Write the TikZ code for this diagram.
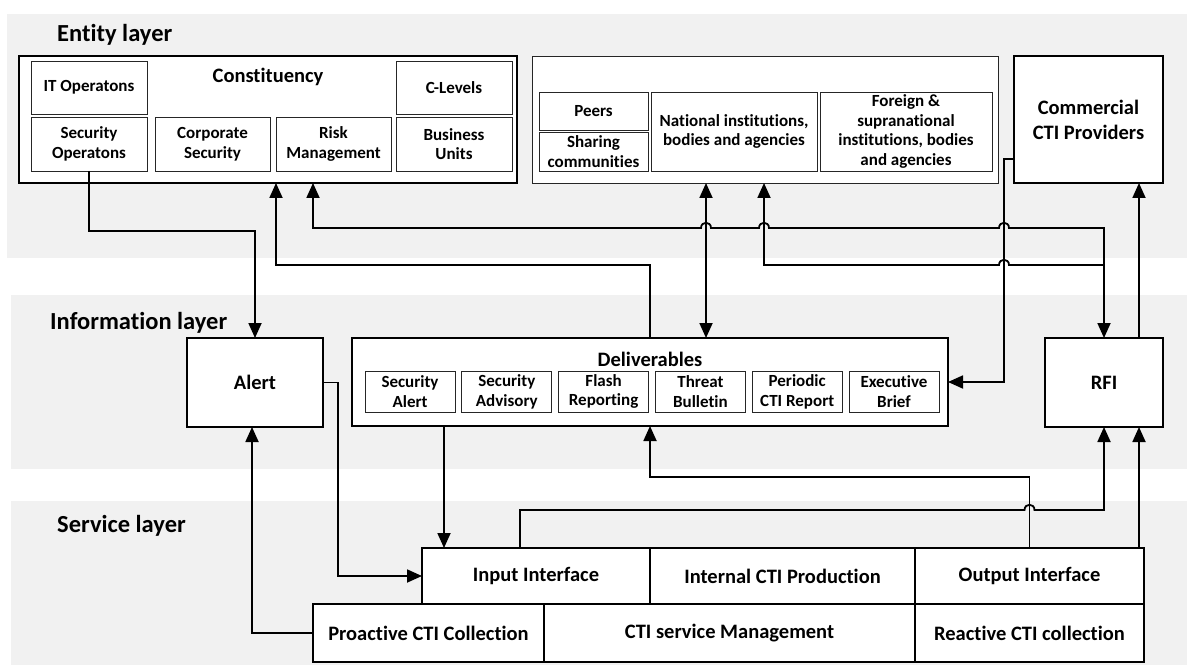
\documentclass[tikz,border=0pt]{standalone}
\usepackage{fontspec}
\setmainfont{Carlito}[Ligatures={NoCommon,NoContextual}]
\usetikzlibrary{arrows.meta}
\definecolor{bandgray}{RGB}{241,241,241}
\begin{document}
\begin{tikzpicture}[x=1pt,y=-1pt,
  band/.style={fill=bandgray,draw=none},
  title/.style={anchor=west,inner sep=0pt,font=\bfseries\fontsize{24.5}{28}\selectfont},
  heavybox/.style={draw,line width=2.4pt,fill=white,inner sep=0pt,outer sep=0pt,align=center},
  lightbox/.style={draw=black!85,line width=0.9pt,fill=white,inner sep=0pt,outer sep=0pt,align=center},
  svcbox/.style={draw,line width=1.8pt,fill=white,inner sep=0pt,outer sep=0pt,align=center,
    font=\bfseries\fontsize{20.5}{24}\selectfont},
  small/.style={font=\bfseries\fontsize{17}{19.8}\selectfont},
  mid/.style={font=\bfseries\fontsize{20.5}{25}\selectfont},
  conn/.style={line width=1.8pt},
  tip/.tip={Triangle[length=15pt,width=13pt]},
  arr/.style={conn,-tip},
  darr/.style={conn,tip-tip}]
\useasboundingbox (0,0) rectangle (1187,666);

% layer bands
\fill[band] (7,14) rectangle (1187,258);
\fill[band] (11,295) rectangle (1187,469);
\fill[band] (11,501) rectangle (1187,665);

\node[title] (tEntity) at (57,35) {Entity layer};
\node[title] (tInfo) at (50,323) {Information layer};
\node[title] (tService) at (57,526) {Service layer};

% ---------------- entity layer ----------------
\node[heavybox,minimum width=498pt,minimum height=127pt] (constit) at (268,119.5) {};
\node[mid,inner sep=0pt] (constlabel) at (268,77) {Constituency};
\node[lightbox,small,minimum width=116pt,minimum height=53pt] (itops) at (89,87.5) {IT Operatons};
\node[lightbox,small,minimum width=116pt,minimum height=54pt] (secops) at (89,144) {Security\\Operatons};
\node[lightbox,small,minimum width=115pt,minimum height=54pt] (corpsec) at (212.5,144) {Corporate\\Security};
\node[lightbox,small,minimum width=115pt,minimum height=54pt] (riskmgmt) at (333.5,144) {Risk\\Management};
\node[lightbox,small,minimum width=116pt,minimum height=53pt] (clevels) at (454,87.5) {C-Levels};
\node[lightbox,small,minimum width=116pt,minimum height=54pt] (busunits) at (454,144) {Business\\Units};

\node[lightbox,minimum width=466pt,minimum height=127pt] (sharing) at (765,119.5) {};
\node[lightbox,small,minimum width=109pt,minimum height=38pt] (peers) at (593.5,111) {Peers};
\node[lightbox,small,minimum width=109pt,minimum height=39pt] (sharecomm) at (593.5,151.5) {Sharing\\communities};
\node[lightbox,small,minimum width=166pt,minimum height=79pt] (national) at (734,131.5) {National institutions,\\bodies and agencies};
\node[lightbox,small,minimum width=172pt,minimum height=79pt] (foreign) at (906,131.5) {Foreign \&\\supranational\\institutions, bodies\\and agencies};

\node[heavybox,mid,minimum width=149pt,minimum height=127pt] (commercial) at (1088.5,119.5) {Commercial\\CTI Providers};

% ---------------- information layer ----------------
\node[heavybox,mid,minimum width=136pt,minimum height=89pt] (alert) at (255,382.5) {Alert};
\node[heavybox,minimum width=596pt,minimum height=88pt] (deliv) at (650,382) {};
\node[mid,inner sep=0pt] (delivlabel) at (650,359) {Deliverables};
\foreach \nm/\cx/\txt in {dA/410/{Security\\Alert},dB/506.8/{Security\\Advisory},
    dC/603.6/{Flash\\Reporting},dD/700.4/{Threat\\Bulletin},
    dE/797.2/{Periodic\\CTI Report},dF/894/{Executive\\Brief}}
  \node[lightbox,small,minimum width=90pt,minimum height=41pt] (\nm) at (\cx,391.5) {\txt};
\node[heavybox,mid,minimum width=118pt,minimum height=89pt] (rfi) at (1104,382.5) {RFI};

% ---------------- service layer ----------------
\node[svcbox,minimum width=228pt,minimum height=56pt] (input) at (536,576) {Input Interface};
\node[svcbox,minimum width=265pt,minimum height=56pt] (internal) at (782.5,576) {Internal CTI Production};
\node[svcbox,minimum width=229pt,minimum height=56pt] (output) at (1029.5,576) {Output Interface};
\node[svcbox,minimum width=231pt,minimum height=58pt] (proactive) at (428.5,633) {Proactive CTI Collection};
\node[svcbox,minimum width=371pt,minimum height=58pt] (management) at (729.5,633) {CTI service Management};
\node[svcbox,minimum width=229pt,minimum height=58pt] (reactive) at (1029.5,633) {Reactive CTI collection};

% ---------------- connectors ----------------
% security operations down to the alert
\draw[arr] (secops.south) -- (89,231) -| (alert.north);
% deliverables up to the constituency
\draw[arr] (deliv.north) -- (650,265) -- (276,265) -- (276,0 |- constit.south);
% constituency <-> RFI, hopping over three verticals
\draw[darr] (313,0 |- constit.south) -- (313,228)
  -- (701,228) .. controls (701,221) and (711,221) .. (711,228)
  -- (759,228) .. controls (759,221) and (769,221) .. (769,228)
  -- (999,228) .. controls (999,221) and (1009,221) .. (1009,228)
  -- (1104,228) -- (rfi.north);
% RFI branch up to the sharing partners
\draw[arr] (1104,265) -- (1009,265) .. controls (1009,258) and (999,258) .. (999,265)
  -- (764,265) -- (764,0 |- sharing.south);
% sharing partners <-> deliverables
\draw[darr] (706,0 |- sharing.south) -- (706,0 |- deliv.north);
% commercial providers into the deliverables
\draw[arr] (commercial.west |- 0,159) -- (1004,159) |- (deliv.east);
% RFI up to the commercial providers
\draw[arr] (1139,0 |- rfi.north) -- (1139,0 |- commercial.south);
% alert into the input interface
\draw[arr] (alert.east) -- (338,0 |- alert.east) |- (input.west);
% deliverables into the input interface
\draw[arr] (444,0 |- deliv.south) -- (444,0 |- input.north);
% proactive collection up to the alert
\draw[arr] (proactive.west) -| (252,0 |- alert.south);
% output interface up to the deliverables
\draw[arr] (output.north) |- (650,477) -- (deliv.south);
% input interface up to the RFI
\draw[arr] (520,0 |- input.north) -- (520,510)
  -- (1024.5,510) .. controls (1024.5,503) and (1034.5,503) .. (1034.5,510)
  -- (1104,510) -- (rfi.south);
% output interface up to the RFI
\draw[arr] (1139,0 |- output.north) -- (1139,0 |- rfi.south);
\end{tikzpicture}
\end{document}
